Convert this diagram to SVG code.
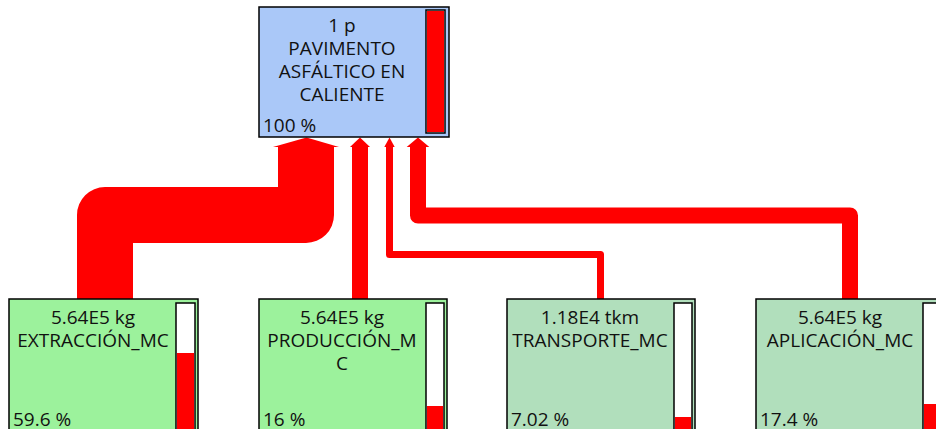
<svg xmlns="http://www.w3.org/2000/svg" width="936" height="429" viewBox="0 0 936 429">
<style>
.box{stroke:#000;stroke-width:1.5}
.blue{fill:#aac8f8}
.green{fill:#9cf29c}
.pale{fill:#b1dfbc}
.bar{fill:#fff;stroke:#000;stroke-width:1.5}
.fill{fill:#ff0000}
.t{font-family:"Open Sans","Noto Sans",sans-serif;font-size:19px;fill:#111}
.c{text-anchor:middle}
.flow{fill:none;stroke:#ff0000;stroke-linejoin:round}
.head{fill:#ff0000}
</style>
<rect width="936" height="429" fill="#fff"/>
<g id="connectors">
  <polyline class="flow" stroke-width="56" points="105,299 105,215 306,215 306,146"/>
  <polygon class="head" points="273,147 306.5,137.5 339,147"/>
  <polyline class="flow" stroke-width="16" points="360,299 360,146"/>
  <polygon class="head" points="350,147 360,137.5 370,147"/>
  <polyline class="flow" stroke-width="7" points="600.5,299 600.5,254.5 389.5,254.5 389.5,146"/>
  <polygon class="head" points="384.3,147 389.5,137.5 394.7,147"/>
  <polyline class="flow" stroke-width="16" points="850,299 850,215.5 418,215.5 418,146"/>
  <polygon class="head" points="406.7,147 418,137.5 429.3,147"/>
</g>
<g id="node-pavimento">
  <rect class="box blue" x="259" y="7" width="190" height="130"/>
  <rect class="bar" x="426" y="10" width="19" height="123"/>
  <rect class="fill" x="427" y="11" width="17" height="121"/>
  <text class="t c" x="342" y="32">1 p</text>
  <text class="t c" x="342" y="55">PAVIMENTO</text>
  <text class="t c" x="342" y="77.5">ASFÁLTICO EN</text>
  <text class="t c" x="342" y="100.5">CALIENTE</text>
  <text class="t" x="263" y="132">100 %</text>
</g>
<g id="node-extraccion">
  <rect class="box green" x="9" y="299" width="189" height="140"/>
  <rect class="bar" x="176" y="303" width="19" height="130"/>
  <rect class="fill" x="177" y="353" width="17" height="79"/>
  <text class="t c" x="93" y="324">5.64E5 kg</text>
  <text class="t c" x="93" y="347">EXTRACCIÓN_MC</text>
  <text class="t" x="13" y="426">59.6 %</text>
</g>
<g id="node-produccion">
  <rect class="box green" x="259" y="299" width="188" height="140"/>
  <rect class="bar" x="426" y="303" width="18" height="130"/>
  <rect class="fill" x="427" y="406" width="16" height="26"/>
  <text class="t c" x="342" y="324">5.64E5 kg</text>
  <text class="t c" x="342" y="347">PRODUCCIÓN_M</text>
  <text class="t c" x="342" y="370">C</text>
  <text class="t" x="263" y="426">16 %</text>
</g>
<g id="node-transporte">
  <rect class="box pale" x="507" y="299" width="188" height="140"/>
  <rect class="bar" x="674" y="303" width="18" height="130"/>
  <rect class="fill" x="675" y="417" width="16" height="15"/>
  <text class="t c" x="590" y="324">1.18E4 tkm</text>
  <text class="t c" x="590" y="347">TRANSPORTE_MC</text>
  <text class="t" x="511" y="426">7.02 %</text>
</g>
<g id="node-aplicacion">
  <rect class="box pale" x="756" y="299" width="188" height="140"/>
  <rect class="bar" x="923" y="303" width="19" height="130"/>
  <rect class="fill" x="924" y="404" width="17" height="28"/>
  <text class="t c" x="840" y="324">5.64E5 kg</text>
  <text class="t c" x="840" y="347">APLICACIÓN_MC</text>
  <text class="t" x="760" y="426">17.4 %</text>
</g>
</svg>
